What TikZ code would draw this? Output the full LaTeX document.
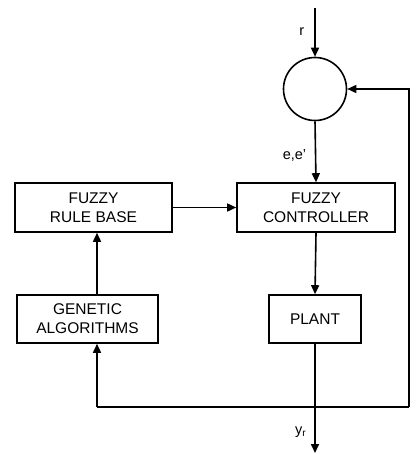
\documentclass[tikz,border=0pt]{standalone}
\usepackage{fontspec}
\setmainfont{Liberation Sans}
\usetikzlibrary{arrows.meta}
\begin{document}
\begin{tikzpicture}[x=1pt,y=-1pt,
  line width=1.6pt,
  arr/.style={-{Triangle[length=9pt,width=8pt]}},
  blk/.style={draw,rectangle,inner sep=0pt,font=\fontsize{15.5}{19}\selectfont,align=center},
  lbl/.style={font=\fontsize{14.5}{16}\selectfont,inner sep=0pt}]
\useasboundingbox (0,0) rectangle (415,454);
% blocks
\node[draw,circle,minimum size=63pt,inner sep=0pt] (sum) at (315,89) {};
\node[blk,minimum width=158pt,minimum height=49pt] (fc) at (316,207.5) {FUZZY\\CONTROLLER};
\node[blk,minimum width=157pt,minimum height=49pt] (rb) at (93.5,207.5) {FUZZY\\RULE BASE};
\node[blk,minimum width=141pt,minimum height=48pt] (ga) at (87.5,319) {GENETIC\\ALGORITHMS};
\node[blk,minimum width=92pt,minimum height=48pt] (pl) at (315,319) {PLANT};
% coordinates
\coordinate (in) at (315,8);
\coordinate (out) at (315,453);
\coordinate (rc) at (409,407);
\coordinate (rt) at (409,89);
\coordinate (lc) at (97,407);
% connectors
\draw[arr] (in) -- (sum.north);
\draw[arr] (sum.south) -- (fc.north);
\draw[arr] (rb.east) -- (fc.west);
\draw[arr] (fc.south) -- (pl.north);
\draw[arr] (pl.south) -- (out);
\draw[arr] (rc) -- (rt) -- (sum.east);
\draw (lc) -- (rc);
\draw[arr] (lc) -- (lc |- ga.south);
\draw[arr] (lc |- ga.north) -- (lc |- rb.south);
% labels
\node[lbl,anchor=east] (lr) at (305,32) {r};
\node[lbl,anchor=east] (le) at (307,155) {e,e'};
\node[lbl,anchor=east] (ly) at (307,432) {y\textsubscript{r}};
\end{tikzpicture}
\end{document}
